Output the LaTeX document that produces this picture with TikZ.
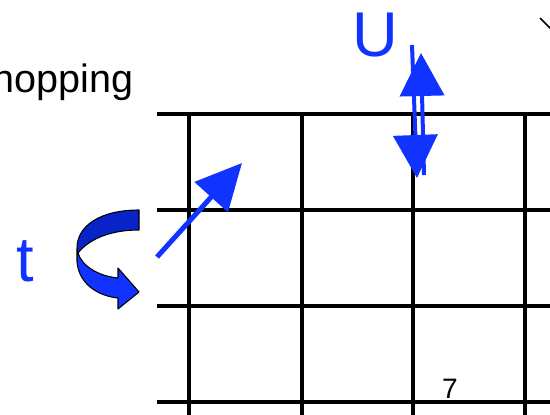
\documentclass[tikz,border=0pt]{standalone}
\usepackage{fontspec}
\setmainfont{Liberation Sans}
\usepackage{tikz}
\usetikzlibrary{arrows.meta}
\definecolor{hopblue}{RGB}{16,51,255}
\definecolor{hopdark}{RGB}{8,36,200}
\tikzset{
  gridline/.style={line width=0.095cm,black},
  blockarrow/.style={-{Triangle[length=0.86cm,width=0.88cm]},line width=0.08cm,hopblue},
  ribbon/.style={draw=black,line width=0.6pt,line join=round},
  biglabel/.style={font=\fontsize{36}{40}\selectfont,text=hopblue,inner sep=0pt,anchor=base},
}
\begin{document}
\begin{tikzpicture}[x=0.02cm,y=-0.02cm]
  \useasboundingbox (0,0) rectangle (550,415);
  % the grid
  \foreach \r in {114,210,306,402}
    \draw[gridline] (157,\r) -- (550,\r);
  \foreach \c in {189,302,413,525}
    \draw[gridline] (\c,114) -- (\c,415);
  % labels
  \node[font=\fontsize{22.5}{27}\selectfont,inner sep=0pt,anchor=base east]
    (hop) at (134,93) {hopping};
  \node[biglabel] (ulab) at (375,57) {U};
  \node[biglabel] (tlab) at (25,281) {t};
  \node[font=\fontsize{16}{19}\selectfont,inner sep=0pt,anchor=base]
    (seven) at (450,398) {7};
  \coordinate (edgeA) at (540,18);
  \coordinate (edgeB) at (553,31);
  \draw[line width=0.03cm,black] (edgeA) -- (edgeB);
  % up and down arrows
  \coordinate (dnstart) at (412,45);
  \coordinate (dnend) at (417,178);
  \coordinate (upstart) at (424,175);
  \coordinate (upend) at (421,53);
  \draw[blockarrow] (dnstart) -- (dnend);
  \draw[blockarrow] (upstart) -- (upend);
  % diagonal arrow
  \coordinate (diagstart) at (157,257);
  \coordinate (diagend) at (242,163);
  \draw[blockarrow,line width=0.1cm,-{Triangle[length=0.92cm,width=0.88cm]}]
    (diagstart) -- (diagend);
  % curved block arrow
  \fill[hopdark,ribbon] (139,210) .. controls (100,210) and (77,226) .. (77,248)
    -- (78,253) .. controls (90,238) and (112,230) .. (139,230) -- cycle;
  \fill[hopblue,ribbon] (77,249) -- (77,262)
    .. controls (79,284) and (98,296) .. (118,298)
    -- (118,309) -- (139,292) -- (118,268) -- (118,278)
    .. controls (98,276) and (82,266) .. (78,253) -- cycle;
\end{tikzpicture}
\end{document}
